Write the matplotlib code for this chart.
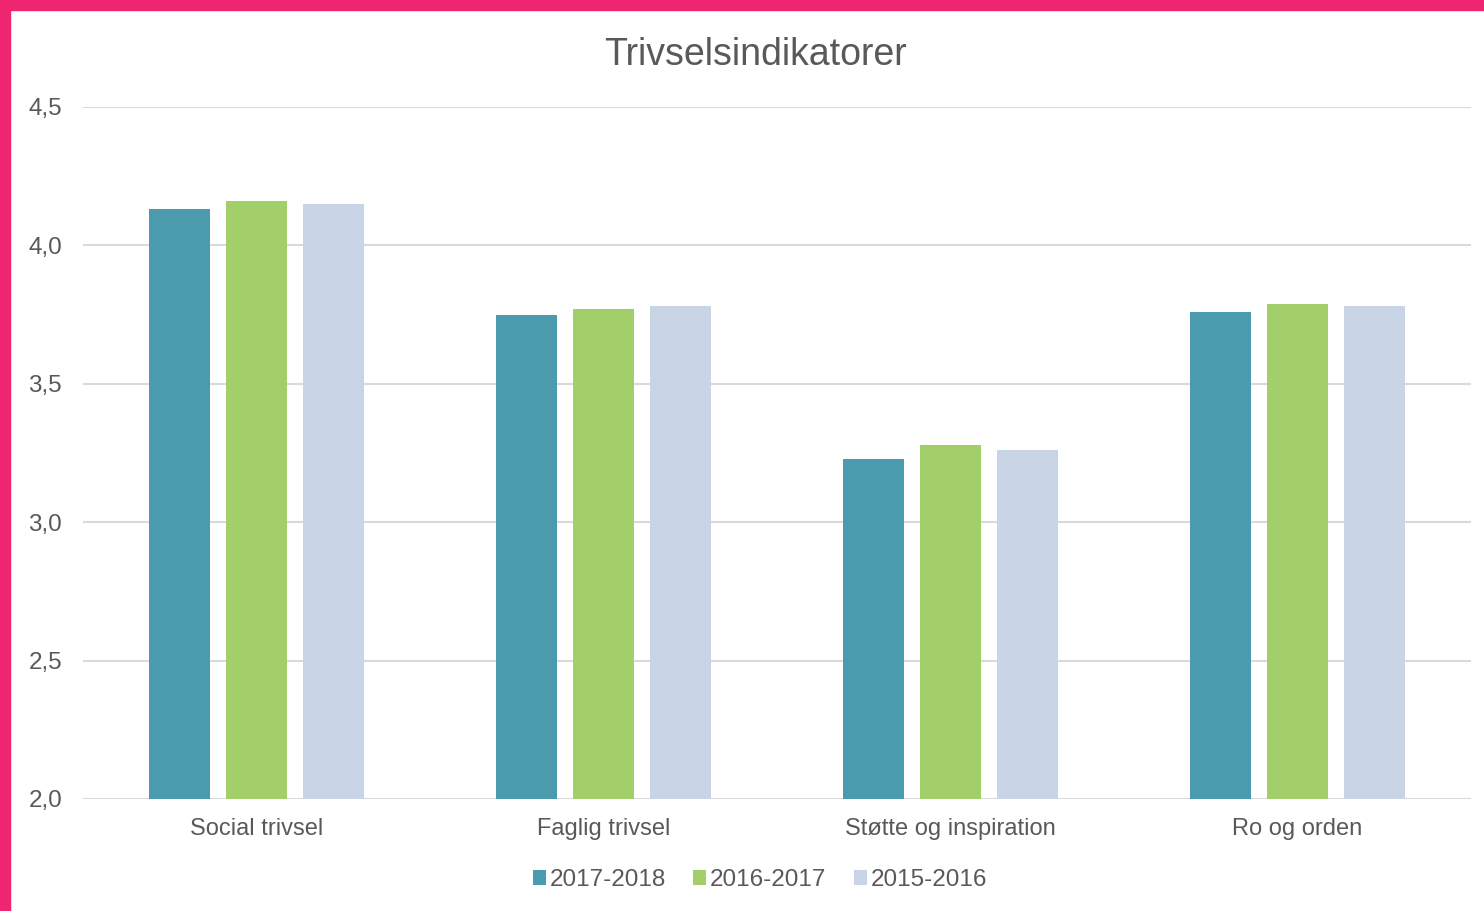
import matplotlib
matplotlib.use("Agg")
import matplotlib.pyplot as plt
import numpy as np
from matplotlib.patches import Rectangle

categories = ["Social trivsel", "Faglig trivsel", "Støtte og inspiration", "Ro og orden"]
series_names = ["2017-2018", "2016-2017", "2015-2016"]
v2017 = [4.13, 3.75, 3.23, 3.76]
v2016 = [4.16, 3.77, 3.28, 3.79]
v2015 = [4.15, 3.78, 3.26, 3.78]
yticks = [2.0, 2.5, 3.0, 3.5, 4.0, 4.5]
ytick_labels = ["2,0", "2,5", "3,0", "3,5", "4,0", "4,5"]

colors = ["#4A9BAE", "#A2CF6A", "#C9D4E6"]
text_color = "#595959"
plt.rcParams['font.family'] = ['Liberation Sans', 'DejaVu Sans']

fig = plt.figure(figsize=(14.84, 9.11), dpi=100)
fig.patch.set_facecolor("white")
# pink frame on top and left
fig.patches.append(Rectangle((0, 0), 10/1484, 1, transform=fig.transFigure, color="#F0256F", zorder=0))
fig.patches.append(Rectangle((0, 1-10/911), 1, 10/911, transform=fig.transFigure, color="#F0256F", zorder=0))

ax = fig.add_axes([83/1484, 1-799/911, (1471-83)/1484, (799-107)/911])
x = np.arange(len(categories))
w = 61/347
off = 77/347
for i, vals in enumerate([v2017, v2016, v2015]):
    ax.bar(x + (i-1)*off, [v-2.0 for v in vals], w, bottom=2.0, color=colors[i], label=series_names[i], zorder=3)

ax.set_xlim(-0.5, 3.5)
ax.set_ylim(2.0, 4.5)
ax.set_yticks(yticks)
ax.set_yticklabels(ytick_labels, fontsize=17.5, color=text_color)
ax.set_xticks(x)
ax.set_xticklabels(categories, fontsize=17, color=text_color)
ax.tick_params(axis='both', length=0)
ax.tick_params(axis='y', pad=15)
ax.tick_params(axis='x', pad=14)
ax.yaxis.grid(True, color="#D9D9D9", linewidth=1.5, zorder=0)
for s in ax.spines.values():
    s.set_visible(False)

fig.text(0.509, 1-55/911, "Trivselsindikatorer", ha="center", va="center", fontsize=27, color=text_color)

leg = fig.legend(loc="center", bbox_to_anchor=(760/1484, 1-880/911), ncol=3, frameon=False,
                 fontsize=17.5, handlelength=0.53, handleheight=0.53, handletextpad=0.15, columnspacing=1.15,
                 labelcolor=text_color)

fig.savefig("out.png", dpi=100, facecolor="white")
